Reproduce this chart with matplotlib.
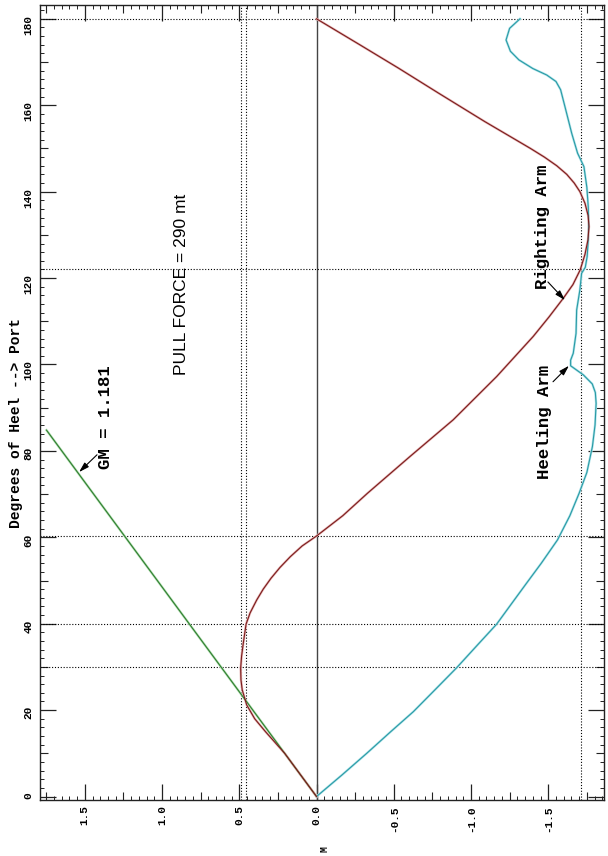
import numpy as np
import matplotlib
matplotlib.use("Agg")
import matplotlib.pyplot as plt

# ---------------- data ----------------
# Righting arm curve (heel deg, M)
righting_heel = [0, 5, 10, 15, 18, 21.2, 24.7, 27, 29.7, 32.5, 35.5, 39.9, 42.5, 45.5, 48,
                 50.5, 53, 55.5, 58, 60.3, 65, 70.2, 78.7, 87.2, 97.2, 106.5, 111, 115.3,
                 118.5, 121.9, 125.5, 128.8, 131.9, 134.5, 137.3, 140, 142, 144, 146,
                 148, 150, 152, 156.2, 162.8, 168.6, 174, 180]
righting_m = [0, 0.103, 0.206, 0.33, 0.40, 0.452, 0.481, 0.489, 0.491, 0.485, 0.474, 0.456,
              0.43, 0.387, 0.345, 0.295, 0.237, 0.17, 0.093, 0, -0.17, -0.33, -0.605,
              -0.885, -1.166, -1.403, -1.505, -1.597, -1.66, -1.707, -1.738, -1.757,
              -1.764, -1.758, -1.738, -1.705, -1.668, -1.62, -1.555, -1.475, -1.385,
              -1.29, -1.09, -0.79, -0.53, -0.28, 0]

# Heeling arm curve (heel deg, M)
heeling_heel = [0, 5, 10, 15, 19.65, 25, 29.8, 35, 39.9, 45, 49.4, 54, 59.4, 65, 70.2, 75,
                81, 86, 91, 93.5, 95.5, 97.6, 99.7, 101, 102.6, 107.2, 112.6, 117.3, 121.1,
                122.5, 125, 128.8, 132.5, 136.5, 141, 145.8, 148.9, 153.5, 159.7, 163.6,
                165.5, 167, 168.5, 170.5, 172.5, 175.1, 177.8, 180]
heeling_m = [0, -0.165, -0.325, -0.48, -0.627, -0.775, -0.907, -1.04, -1.166, -1.27, -1.36,
             -1.455, -1.56, -1.64, -1.70, -1.75, -1.786, -1.803, -1.81, -1.805, -1.785,
             -1.727, -1.645, -1.645, -1.662, -1.68, -1.684, -1.705, -1.716, -1.74, -1.752,
             -1.759, -1.762, -1.759, -1.75, -1.731, -1.69, -1.652, -1.608, -1.58, -1.55,
             -1.49, -1.40, -1.31, -1.255, -1.227, -1.25, -1.317]

# GM tangent line
gm_heel = [0, 84.8]
gm_m = [0, 1.748]

# reference (dotted) lines
ref_heels = [30, 40, 60.3, 122, 180]
ref_ms = [0.491, 0.456, -1.715]

heel_ticks = list(range(0, 181, 20))
heel_ticklabels = [str(v) for v in heel_ticks]
m_ticks = [1.5, 1.0, 0.5, 0.0, -0.5, -1.0, -1.5]
m_ticklabels = ["1.5", "1.0", "0.5", "0.0", "-0.5", "-1.0", "-1.5"]

# ---------------- figure ----------------
W, H = 608, 856
fig = plt.figure(figsize=(W / 100, H / 100), dpi=100)
ax = fig.add_axes([40 / W, 1 - 800 / H, (604 - 40) / W, (800 - 5) / H])

ax.set_xlim(1.79, -1.861)
ax.set_ylim(-0.8, 183.2)

mono = "Liberation Mono"

# zero line and reference lines
ax.axvline(0, color="#444444", lw=1.0, zorder=2)
for h in ref_heels:
    ax.axhline(h, color="black", lw=0.8, ls=(0, (1, 1.6)), zorder=2)
for m in ref_ms:
    ax.axvline(m, color="black", lw=0.8, ls=(0, (1, 1.6)), zorder=2)

# curves (halo + core)
ax.plot(gm_m, gm_heel, color="#b4e0b4", lw=1.7, zorder=3)
ax.plot(gm_m, gm_heel, color="#2f7d2f", lw=0.8, zorder=4)
ax.plot(heeling_m, heeling_heel, color="#b0e4ea", lw=1.7, zorder=3)
ax.plot(heeling_m, heeling_heel, color="#2a9aa5", lw=0.8, zorder=4)
ax.plot(righting_m, righting_heel, color="#e6b4b4", lw=1.7, zorder=3)
ax.plot(righting_m, righting_heel, color="#7a1c1c", lw=0.8, zorder=4)

# ticks
ax.set_yticks(heel_ticks)
ax.set_yticklabels(heel_ticklabels, rotation=90, family=mono, fontweight="bold", fontsize=8)
ax.set_yticks(np.arange(0, 184, 2), minor=True)
ax.set_xticks(m_ticks)
ax.set_xticklabels(m_ticklabels, rotation=90, family=mono, fontweight="bold", fontsize=8)
ax.set_xticks(np.round(np.arange(-1.85, 1.80, 0.05), 2), minor=True)
ax.tick_params(which="major", direction="in", length=11.5, width=0.9,
               top=True, right=True, color="#222222")
ax.tick_params(which="minor", direction="in", length=2.9, width=0.7,
               top=True, right=True, color="#222222")
ax.tick_params(axis="y", which="major", pad=4.5)
ax.tick_params(axis="x", which="major", pad=3.6)

# medium ticks
med_heel = list(range(10, 181, 20))
med_m = [1.75, 1.25, 0.75, 0.25, -0.25, -0.75, -1.25, -1.75]
for side in ["left", "right"]:
    s = ax.secondary_yaxis(side)
    s.set_yticks(med_heel)
    s.tick_params(direction="in", length=5.8, width=0.8, labelleft=False,
                  labelright=False, color="#222222")
    s.set_yticklabels([])
    for sp in s.spines.values():
        sp.set_visible(False)
for side in ["bottom", "top"]:
    s = ax.secondary_xaxis(side)
    s.set_xticks(med_m)
    s.tick_params(direction="in", length=5.8, width=0.8, labelbottom=False,
                  labeltop=False, color="#222222")
    s.set_xticklabels([])
    for sp in s.spines.values():
        sp.set_visible(False)

for sp in ax.spines.values():
    sp.set_linewidth(1.0)
    sp.set_color("#222222")

# annotations
arrow = dict(arrowstyle="-|>,head_length=0.6,head_width=0.18", color="black", lw=0.8,
             shrinkA=0, shrinkB=0)
ax.annotate("", xy=(1.537, 75.1), xytext=(1.421, 79.1), arrowprops=arrow, zorder=6)
ax.text(1.366, 87.9, "GM = 1.181", rotation=90, ha="center", va="center",
        family=mono, fontweight="bold", fontsize=12.5)

ax.annotate("", xy=(-1.608, 114.9), xytext=(-1.498, 119.1), arrowprops=arrow, zorder=6)
ax.text(-1.466, 131.9, "Righting Arm", rotation=90, ha="center", va="center",
        family=mono, fontweight="bold", fontsize=12.5)

ax.annotate("", xy=(-1.634, 99.7), xytext=(-1.531, 96.0), arrowprops=arrow, zorder=6)
ax.text(-1.479, 86.7, "Heeling Arm", rotation=90, ha="center", va="center",
        family=mono, fontweight="bold", fontsize=12.5)

ax.text(0.877, 118.6, "PULL FORCE = 290 mt", rotation=90, ha="center", va="center",
        family="Liberation Sans", fontsize=12.5)

fig.text(16 / W, 1 - 423 / H, "Degrees of Heel --> Port", rotation=90, ha="center",
         va="center", family=mono, fontweight="bold", fontsize=10.5)
fig.text(325 / W, 1 - 849 / H, "M", rotation=90, ha="center", va="center",
         family=mono, fontweight="bold", fontsize=7)

fig.savefig("out.png", dpi=100)
